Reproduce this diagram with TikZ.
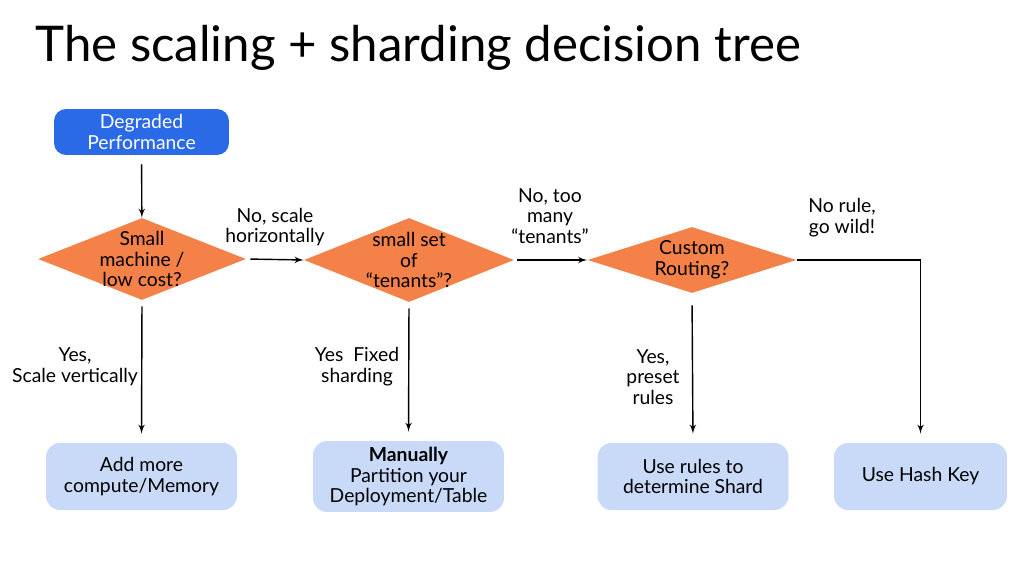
\documentclass[tikz,border=0pt]{standalone}
\usepackage{fontspec}
\setmainfont{Lato}
\usetikzlibrary{shapes,arrows}
\definecolor{startblue}{RGB}{43,106,230}
\definecolor{decorange}{RGB}{244,130,72}
\definecolor{resultblue}{RGB}{201,218,248}

\begin{document}
\begin{tikzpicture}[x=0.02cm, y=-0.02cm,
    every node/.style={font=\fontsize{11}{11.8}\selectfont},
    block_start/.style ={rectangle, rounded corners=0.24cm, fill=startblue,
      text=white, minimum width=3.5cm, minimum height=0.92cm,
      align=center, inner sep=0pt},
    block_decision/.style ={diamond, fill=decorange, aspect=2.5,
      inner sep=-6pt, align=center},
    block_result/.style ={rectangle, rounded corners=0.28cm, fill=resultblue,
      minimum width=3.82cm, minimum height=1.34cm, align=center},
    block_noborder/.style ={rectangle, draw=none, fill=none,
      align=center, inner sep=0pt},
      line/.style ={draw, thick, -latex', shorten >=0pt}]
    \useasboundingbox (0,0) rectangle (1024,567);
    % title
    \node [anchor=base west, inner sep=0pt, font=\fontsize{28}{32}\selectfont]
      (title) at (35,62) {The scaling + sharding decision tree};
    % start and decisions
    \node [block_start] (degraded) at (141.5,132) {Degraded\\Performance};
    \node [block_decision, minimum width=4.16cm, minimum height=1.64cm]
      (small) at (142,259) {Small\\machine /\\low cost?};
    \node [block_decision, minimum width=4.2cm, minimum height=1.68cm]
      (tenants) at (409,260) {small set\\of\\“tenants”?};
    \node [block_decision, minimum width=4.18cm, minimum height=1.32cm]
      (routing) at (692,260) {Custom\\Routing?};
    % outcomes
    \node [block_result] (compute) at (141.5,476.5) {Add more\\compute/Memory};
    \node [block_result] (manual) at (408.5,476.5)
      {\textbf{Manually}\\Partition your\\Deployment/Table};
    \node [block_result] (shard) at (693,476.5) {Use rules to\\determine Shard};
    \node [block_result, minimum width=3.46cm] (hashkey) at (920.5,476.5)
      {Use Hash Key};
    % edge labels
    \node [block_noborder] (lbl_horiz) at (275,227) {No, scale\\horizontally};
    \node [block_noborder] (lbl_many) at (550,216) {No, too\\many\\“tenants”};
    \node [block_noborder] (lbl_wild) at (842,218) {No rule,\\go wild!};
    \node [block_noborder] (lbl_vert) at (75,367) {Yes,\\Scale vertically};
    \node [block_noborder] (lbl_fixed) at (357,367) {Yes~~Fixed\\sharding};
    \node [block_noborder] (lbl_preset) at (653,377) {Yes,\\preset\\rules};
    % connecting nodes with paths
    \begin{scope}[every path/.style=line]
      \path [shorten <=0.18cm] (degraded) -- (small);
      \path [shorten <=0.08cm] (small.east) -- (tenants.west);
      \path [shorten <=0.06cm] (tenants.east) -- (routing.west);
      \path [shorten >=0.18cm] (routing.east) -| (hashkey.north);
      \path [shorten <=0.12cm, shorten >=0.18cm] (small.south) -- (compute.north);
      \path [shorten <=0.12cm, shorten >=0.18cm] (tenants.south) -- (manual.north);
      \path [shorten <=0.24cm, shorten >=0.18cm] (routing.south) -- (shard.north);
    \end{scope}
  \end{tikzpicture}
\end{document}
